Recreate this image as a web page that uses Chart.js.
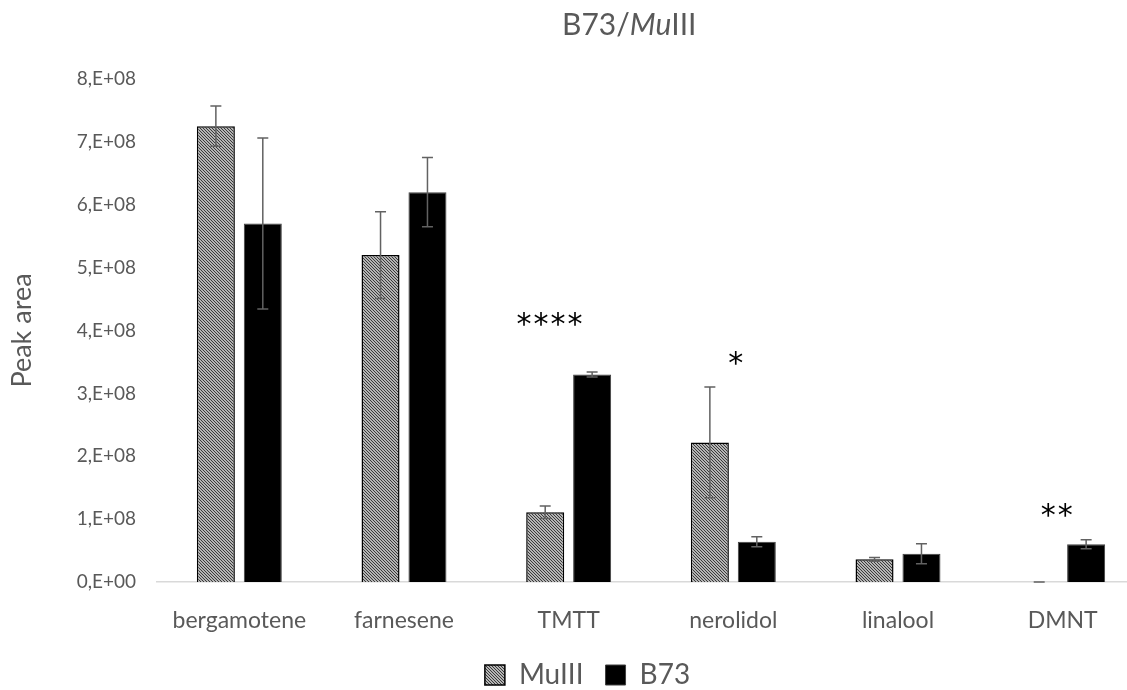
<!DOCTYPE html>
<html>
<head>
<meta charset="utf-8">
<script src="https://cdn.jsdelivr.net/npm/chart.js@4.4.1/dist/chart.umd.min.js"></script>
<style>
    html, body { margin: 0; padding: 0; overflow: hidden; background: #fff; }
    #contenedor { width: 1145px; height: 690px; }
</style>
</head>
<body>
<div id="contenedor"><canvas id="graficoBarras"></canvas></div>
<script>
const categorias = ['bergamotene', 'farnesene', 'TMTT', 'nerolidol', 'linalool', 'DMNT'];
const valoresMuIII = [7.25e8, 5.2e8, 1.11e8, 2.22e8, 0.36e8, 0];
const erroresMuIII = [0.32e8, 0.69e8, 0.1e8, 0.88e8, 0.03e8, 0];
const valoresB73 = [5.7e8, 6.2e8, 3.3e8, 0.64e8, 0.45e8, 0.6e8];
const erroresB73 = [1.36e8, 0.55e8, 0.04e8, 0.08e8, 0.16e8, 0.07e8];
const etiquetasTicks = ['0,E+00', '1,E+08', '2,E+08', '3,E+08', '4,E+08', '5,E+08', '6,E+08', '7,E+08', '8,E+08'];
const significancia = ['', '', '****', '*', '', '**'];
const posicionSignificancia = [0, 1, 1.89, 3.02, 4, 4.97];
const alturaSignificancia = [0, 0, 4.2e8, 3.58e8, 0, 1.16e8];

const colorTexto = '#595959';
const fuente = 'Lato, "Open Sans", sans-serif';

function crearTrama() {
    const c = document.createElement('canvas');
    c.width = 3; c.height = 3;
    const g = c.getContext('2d');
    g.fillStyle = '#b4b4b4';
    g.fillRect(0, 0, 3, 3);
    g.fillStyle = '#3a3a3a';
    for (let k = 0; k < 3; k++) g.fillRect(k, k, 1, 1);
    return g.createPattern(c, 'repeat');
}
const trama = crearTrama();

// barras de error
const pluginErrores = {
    id: 'errores',
    afterDatasetsDraw(chart) {
        const ctx = chart.ctx;
        const y = chart.scales.y;
        chart.data.datasets.forEach((ds, i) => {
            chart.getDatasetMeta(i).data.forEach((bar, j) => {
                const v = ds.data[j], e = ds.errores[j];
                const arriba = y.getPixelForValue(v + e);
                const abajo = y.getPixelForValue(Math.max(v - e, 0));
                ctx.save();
                ctx.strokeStyle = '#626262';
                ctx.lineWidth = 1.5;
                ctx.beginPath();
                ctx.moveTo(bar.x, arriba); ctx.lineTo(bar.x, abajo);
                ctx.moveTo(bar.x - 5.5, arriba); ctx.lineTo(bar.x + 5.5, arriba);
                ctx.moveTo(bar.x - 5.5, abajo); ctx.lineTo(bar.x + 5.5, abajo);
                ctx.stroke();
                ctx.restore();
            });
        });
    }
};

// asteriscos y titulo con parte en cursiva
const pluginTextos = {
    id: 'textos',
    afterLayout(chart) {
        // leyenda un poco a la derecha, como en el original
        chart.legend.left += 15; chart.legend.right += 15;
        chart.legend.top -= 3; chart.legend.bottom -= 3;
    },
    afterDraw(chart) {
        const ctx = chart.ctx;
        const x = chart.scales.x, y = chart.scales.y;
        ctx.save();
        ctx.fillStyle = '#000';
        ctx.font = '30px "DejaVu Sans"';
        ctx.letterSpacing = '2px';
        ctx.textAlign = 'center';
        ctx.textBaseline = 'middle';
        significancia.forEach((s, j) => {
            if (!s) return;
            ctx.fillText(s, x.getPixelForValue(posicionSignificancia[j]), y.getPixelForValue(alturaSignificancia[j]) + 8);
        });
        ctx.letterSpacing = '0px';

        const partes = [['B73/', 'normal'], ['Mu', 'italic'], ['III', 'normal']];
        let px = 562;
        ctx.fillStyle = colorTexto;
        ctx.textAlign = 'left';
        ctx.textBaseline = 'alphabetic';
        partes.forEach(p => {
            ctx.font = p[1] + ' 30px ' + fuente;
            ctx.fillText(p[0], px, 35);
            px += ctx.measureText(p[0]).width;
        });
        ctx.restore();
    }
};

const ctxBarras = document.getElementById('graficoBarras').getContext('2d');
const chartBarras = new Chart(ctxBarras, {
    type: 'bar',
    data: {
        labels: categorias,
        datasets: [
            {
                label: 'MuIII',
                data: valoresMuIII,
                errores: erroresMuIII,
                backgroundColor: trama,
                borderColor: '#000',
                borderWidth: valoresMuIII.map(v => v > 0 ? 1.5 : 0)
            },
            {
                label: 'B73',
                data: valoresB73,
                errores: erroresB73,
                backgroundColor: '#000',
                borderColor: '#404040',
                borderWidth: 1
            }
        ]
    },
    options: {
        responsive: true,
        maintainAspectRatio: false,
        animation: false,
        layout: { padding: { top: 79, bottom: 0, left: 0, right: 0 } },
        datasets: { bar: { categoryPercentage: 0.57, barPercentage: 0.81 } },
        scales: {
            x: {
                grid: { display: false },
                border: { color: '#d9d9d9', width: 1.5 },
                ticks: { color: colorTexto, font: { family: fuente, size: 23 }, padding: 17 },
                afterFit: s => { s.height = 60; }
            },
            y: {
                min: 0,
                max: 8e8,
                grid: { display: false, drawTicks: false },
                border: { display: false },
                ticks: {
                    stepSize: 1e8,
                    color: colorTexto,
                    font: { family: fuente, size: 19 },
                    padding: 21,
                    callback: (v, i) => etiquetasTicks[i]
                },
                title: {
                    display: true,
                    text: 'Peak area',
                    color: colorTexto,
                    font: { family: fuente, size: 27 },
                    padding: { top: 6, bottom: 0 }
                },
                afterFit: s => { s.width = 157; }
            }
        },
        plugins: {
            legend: {
                position: 'bottom',
                maxHeight: 48,
                labels: {
                    color: colorTexto,
                    font: { family: fuente, size: 28 },
                    boxWidth: 20,
                    boxHeight: 20,
                    padding: 22
                }
            },
            tooltip: { enabled: false }
        }
    },
    plugins: [pluginErrores, pluginTextos]
});
</script>
</body>
</html>
